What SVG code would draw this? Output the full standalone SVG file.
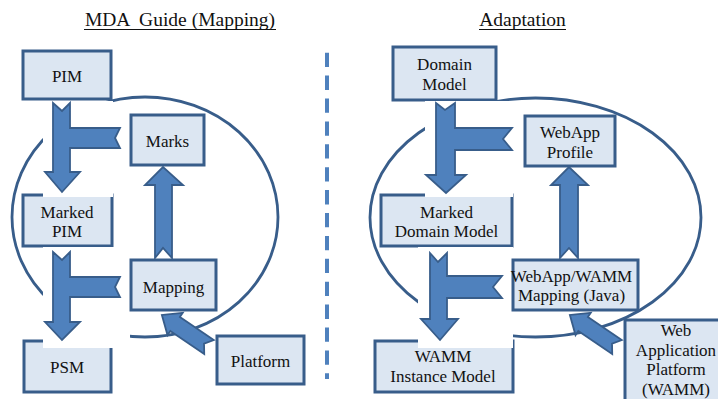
<svg xmlns="http://www.w3.org/2000/svg" width="718" height="399" viewBox="0 0 718 399">
<style>
.box{fill:#DCE6F2;stroke:#385D8A;stroke-width:3}
.arr{fill:#4F81BD;stroke:#385D8A;stroke-width:1.8;stroke-linejoin:miter}
.ell{fill:none;stroke:#385D8A;stroke-width:2.8}
.wh{fill:#FFFFFF;stroke:none}
text{font-family:"Liberation Serif","Times New Roman",serif;font-size:17px;fill:#111111;text-anchor:middle}
.title{font-size:19.5px}
.ul{stroke:#111111;stroke-width:1}
</style>
<defs>
<path id="diag" d="M0,-8.5 L41,-8.5 L41,-13.5 L57,0 L41,13.5 L41,8.5 L0,8.5 L6,0 Z"/>
</defs>
<rect width="718" height="399" fill="#FFFFFF"/>

<g id="titles">
<text class="title" x="180" y="26" xml:space="preserve">MDA  Guide (Mapping)</text>
<line class="ul" x1="84" y1="29.5" x2="276" y2="29.5"/>
<text class="title" x="522.5" y="26">Adaptation</text>
<line class="ul" x1="479" y1="29.5" x2="566" y2="29.5"/>
</g>

<g id="divider">
<line x1="327" y1="52.7" x2="327" y2="379" stroke="#4F81BD" stroke-width="4" stroke-dasharray="14.3 8.6"/>
</g>

<g id="cycles">
<ellipse class="ell" cx="145" cy="217" rx="133" ry="120"/>
<ellipse class="ell" cx="535.5" cy="217.5" rx="165.5" ry="119.5"/>
</g>

<g id="pim"><rect class="box" x="23" y="51" width="88" height="48"/><text x="67" y="82">PIM</text></g>
<g id="marked-pim"><rect class="box" x="23" y="195" width="89" height="51"/><text x="67" y="218">Marked</text><text x="67" y="237">PIM</text></g>
<g id="psm"><rect class="box" x="24" y="341" width="87" height="51"/><text x="67" y="373">PSM</text></g>
<g id="domain-model"><rect class="box" x="393" y="47" width="103" height="53"/><text x="444.5" y="70">Domain</text><text x="444.5" y="90">Model</text></g>
<g id="marked-domain-model"><rect class="box" x="381" y="195" width="131" height="51"/><text x="446.5" y="218">Marked</text><text x="446.5" y="237">Domain Model</text></g>
<g id="wamm-instance-model"><rect class="box" x="375" y="341" width="138" height="51"/><text x="443" y="362">WAMM</text><text x="443" y="382">Instance Model</text></g>

<g id="connectors">
<rect class="wh" x="43" y="101" width="70" height="96"/>
<rect class="wh" x="43" y="247" width="87" height="101"/>
<rect class="wh" x="425" y="101" width="88" height="96"/>
<rect class="wh" x="418" y="247" width="95" height="101"/>
<path class="arr" d="M53,103 L62,111 L70,103 L70,128 L120,128 L115,138 L120,148 L70,148 L70,172 L80,172 L62,192 L45,172 L53,172 Z"/>
<path class="arr" d="M53,252 L62,260 L70,252 L70,277 L120,277 L115,287 L120,297 L70,297 L70,322 L80,322 L62,340 L45,322 L53,322 Z"/>
<path class="arr" d="M155,258 L163,248 L172,258 L172,185 L183,185 L163,167 L145,185 L155,185 Z"/>
<use href="#diag" class="arr" transform="translate(209,347) rotate(214.25)"/>
<path class="arr" d="M436,103 L445,110 L455,103 L455,128 L512,128 L503,139 L512,150 L455,150 L455,175 L466,175 L446,193 L426,175 L436,175 Z"/>
<path class="arr" d="M430,253 L438,262 L447,253 L447,276 L502,276 L493,287 L502,298 L447,298 L447,319 L458,319 L440,340 L421,319 L430,319 Z"/>
<path class="arr" d="M560,258 L569,248 L578,258 L578,185 L588,185 L569,167 L551,185 L560,185 Z"/>
<use href="#diag" class="arr" transform="translate(617,347) rotate(214.25)"/>
</g>

<g id="marks"><rect class="box" x="131" y="115" width="73" height="50"/><text x="167.5" y="147">Marks</text></g>
<g id="mapping"><rect class="box" x="131" y="260" width="85" height="50"/><text x="173.5" y="293">Mapping</text></g>
<g id="platform"><rect class="box" x="217" y="336" width="87" height="48"/><text x="260.5" y="367">Platform</text></g>
<g id="webapp-profile"><rect class="box" x="525" y="116" width="90" height="50"/><text x="570" y="138">WebApp</text><text x="570" y="158">Profile</text></g>
<g id="webapp-wamm-mapping"><rect class="box" x="513" y="260" width="125" height="50"/><text x="571.5" y="282">WebApp/WAMM</text><text x="571.5" y="301">Mapping (Java)</text></g>
<g id="web-application-platform"><rect class="box" x="625" y="320" width="102" height="90"/><text x="676" y="336">Web</text><text x="676" y="355.5">Application</text><text x="676" y="375">Platform</text><text x="676" y="394.5">(WAMM)</text></g>
</svg>
